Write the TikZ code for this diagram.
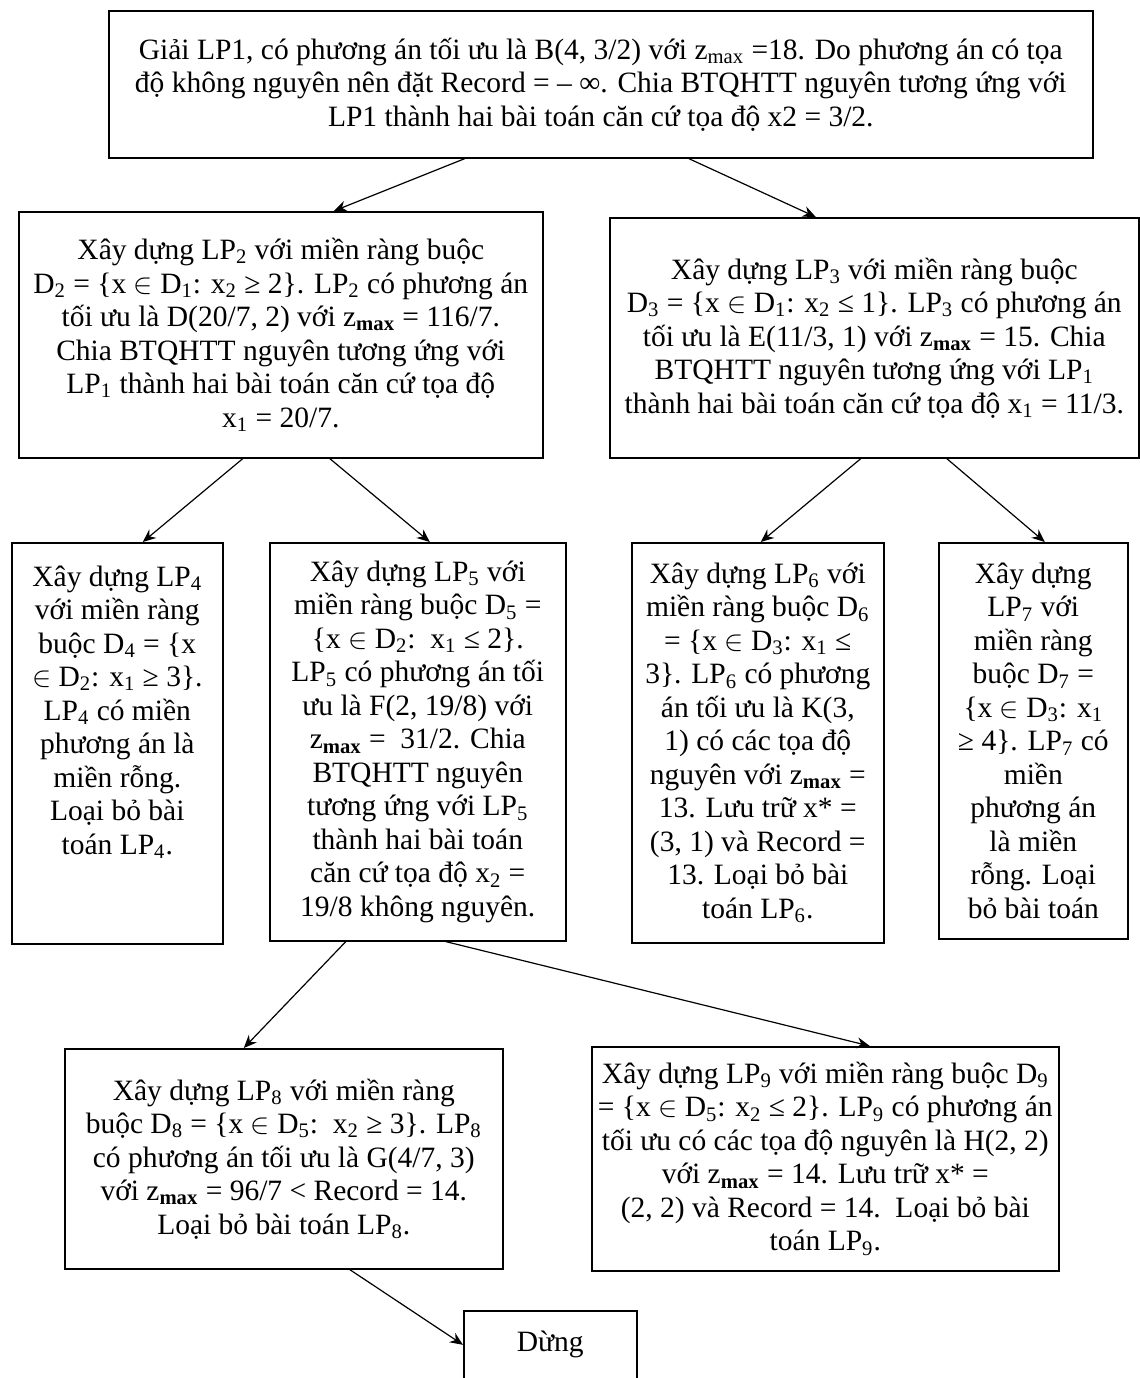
\documentclass[tikz,border=0pt]{standalone}
\usepackage{fontspec}
\setmainfont{Liberation Serif}
\usetikzlibrary{arrows.meta}

\newcommand{\idx}[1]{\textsubscript{#1}}
\newcommand{\zmx}{z\textsubscript{\textbf{max}}}

\begin{document}
\begin{tikzpicture}[x=0.5pt, y=-0.5pt,
    block/.style={draw=black, line width=0.8pt, rectangle, anchor=north west, align=center, inner sep=0pt, font=\fontsize{14.75}{16.75}\selectfont},
    edge/.style={line width=0.6pt, -{Stealth[length=6.5pt, width=5.5pt]}}
]
\useasboundingbox (0,0) rectangle (1140,1378);

% Knoten
\node[block, minimum width=492pt, minimum height=73.5pt] (lp1) at (108,10) {Giải LP1, có phương án tối ưu là B(4, 3/2) với z\textsubscript{max} =18. Do phương án có tọa\\ độ không nguyên nên đặt Record = – ∞. Chia BTQHTT nguyên tương ứng với\\ LP1 thành hai bài toán căn cứ tọa độ x2 = 3/2.};
\node[block, minimum width=262pt, minimum height=123pt] (lp2) at (18,211) {Xây dựng LP\idx{2} với miền ràng buộc\\ D\idx{2} = \{x $\in$ D\idx{1}: x\idx{2} ≥ 2\}. LP\idx{2} có phương án\\ tối ưu là D(20/7, 2) với \zmx{} = 116/7.\\ Chia BTQHTT nguyên tương ứng với\\ LP\idx{1} thành hai bài toán căn cứ tọa độ\\ x\idx{1} = 20/7.};
\node[block, minimum width=264.5pt, minimum height=120pt] (lp3) at (609,217) {Xây dựng LP\idx{3} với miền ràng buộc\\ D\idx{3} = \{x $\in$ D\idx{1}: x\idx{2} ≤ 1\}. LP\idx{3} có phương án\\ tối ưu là E(11/3, 1) với \zmx{} = 15. Chia\\ BTQHTT nguyên tương ứng với LP\idx{1}\\ thành hai bài toán căn cứ tọa độ x\idx{1} = 11/3.};
\node[block, minimum width=105.5pt, minimum height=200.5pt] (lp4) at (11,542) {Xây dựng LP\idx{4}\\ với miền ràng\\ buộc D\idx{4} = \{x\\ $\in$ D\idx{2}: x\idx{1} ≥ 3\}.\\ LP\idx{4} có miền\\ phương án là\\ miền rỗng.\\ Loại bỏ bài\\ toán LP\idx{4}.\\ ~\\ ~};
\node[block, minimum width=148pt, minimum height=199pt] (lp5) at (269,542) {Xây dựng LP\idx{5} với\\ miền ràng buộc D\idx{5} =\\ \{x $\in$ D\idx{2}:\ \ x\idx{1} ≤ 2\}.\\ LP\idx{5} có phương án tối\\ ưu là F(2, 19/8) với\\ \zmx{} =\ \ 31/2. Chia\\ BTQHTT nguyên\\ tương ứng với LP\idx{5}\\ thành hai bài toán\\ căn cứ tọa độ x\idx{2} =\\ 19/8 không nguyên.};
\node[block, minimum width=126pt, minimum height=200pt] (lp6) at (631,542) {Xây dựng LP\idx{6} với\\ miền ràng buộc D\idx{6}\\ = \{x $\in$ D\idx{3}: x\idx{1} ≤\\ 3\}. LP\idx{6} có phương\\ án tối ưu là K(3,\\ 1) có các tọa độ\\ nguyên với \zmx{} =\\ 13. Lưu trữ x* =\\ (3, 1) và Record =\\ 13. Loại bỏ bài\\ toán LP\idx{6}.};
\node[block, minimum width=94.5pt, minimum height=198pt] (lp7) at (938,542) {Xây dựng\\ LP\idx{7} với\\ miền ràng\\ buộc D\idx{7} =\\ \{x $\in$ D\idx{3}: x\idx{1}\\ ≥ 4\}. LP\idx{7} có\\ miền\\ phương án\\ là miền\\ rỗng. Loại\\ bỏ bài toán};
\node[block, minimum width=219pt, minimum height=110pt] (lp8) at (64,1048) {Xây dựng LP\idx{8} với miền ràng\\ buộc D\idx{8} = \{x $\in$ D\idx{5}:\ \ x\idx{2} ≥ 3\}. LP\idx{8}\\ có phương án tối ưu là G(4/7, 3)\\ với \zmx{} = 96/7 < Record = 14.\\ Loại bỏ bài toán LP\idx{8}.};
\node[block, minimum width=233.5pt, minimum height=112pt] (lp9) at (591,1046) {Xây dựng LP\idx{9} với miền ràng buộc D\idx{9}\\ = \{x $\in$ D\idx{5}: x\idx{2} ≤ 2\}. LP\idx{9} có phương án\\ tối ưu có các tọa độ nguyên là H(2, 2)\\ với \zmx{} = 14. Lưu trữ x* =\\ (2, 2) và Record = 14.\ \ Loại bỏ bài\\ toán LP\idx{9}.};
\node[block, minimum width=86.5pt, minimum height=34pt] (stop) at (463,1310) {Dừng};

% Kanten zwischen Knoten
\draw[edge] ([xshift=-68pt]lp1.south) -- ([xshift=26.5pt]lp2.north);
\draw[edge] ([xshift=44pt]lp1.south) -- ([xshift=-29.25pt]lp3.north);
\draw[edge] ([xshift=-19pt]lp2.south) -- ([xshift=12.75pt]lp4.north);
\draw[edge] ([xshift=24.5pt]lp2.south) -- ([xshift=6pt]lp5.north);
\draw[edge] ([xshift=-6.75pt]lp3.south) -- ([xshift=1.5pt]lp6.north);
\draw[edge] ([xshift=36.25pt]lp3.south) -- ([xshift=5.75pt]lp7.north);
\draw[edge] ([xshift=-36pt]lp5.south) -- ([xshift=-20pt]lp8.north);
\draw[edge] ([xshift=14pt]lp5.south) -- ([xshift=22.25pt]lp9.north);
\draw[edge] ([xshift=33pt]lp8.south) -- (stop.west);

\end{tikzpicture}
\end{document}
